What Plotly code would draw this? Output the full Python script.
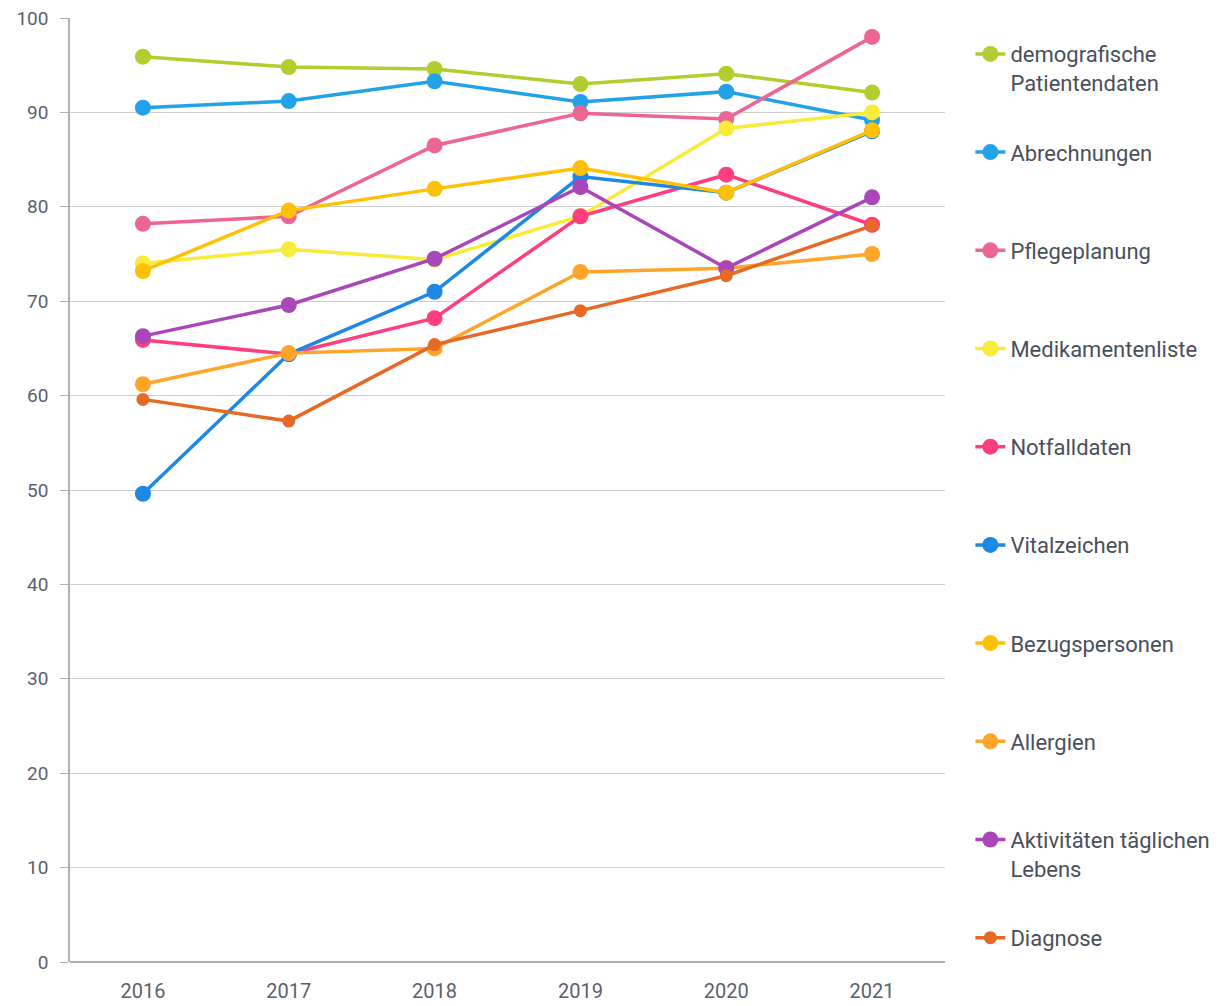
import plotly.graph_objects as go

years = ["2016", "2017", "2018", "2019", "2020", "2021"]

series_names = [
    "demografische<br>Patientendaten",
    "Abrechnungen",
    "Pflegeplanung",
    "Medikamentenliste",
    "Notfalldaten",
    "Vitalzeichen",
    "Bezugspersonen",
    "Allergien",
    "Aktivitäten täglichen<br>Lebens",
    "Diagnose",
]

demografische = [95.9, 94.8, 94.6, 93.0, 94.1, 92.1]
abrechnungen = [90.5, 91.2, 93.3, 91.1, 92.2, 89.2]
pflegeplanung = [78.2, 79.0, 86.5, 89.9, 89.3, 98.0]
medikamentenliste = [74.0, 75.5, 74.4, 79.0, 88.3, 90.0]
notfalldaten = [65.9, 64.4, 68.2, 79.0, 83.4, 78.1]
vitalzeichen = [49.6, 64.4, 71.0, 83.2, 81.5, 88.0]
bezugspersonen = [73.2, 79.6, 81.9, 84.1, 81.5, 88.1]
allergien = [61.2, 64.5, 65.0, 73.1, 73.5, 75.0]
aktivitaeten = [66.3, 69.6, 74.5, 82.1, 73.5, 81.0]
diagnose = [59.6, 57.3, 65.4, 69.0, 72.7, 78.0]

values = [demografische, abrechnungen, pflegeplanung, medikamentenliste, notfalldaten,
          vitalzeichen, bezugspersonen, allergien, aktivitaeten, diagnose]

colors = ["#b2cd2e", "#22a3e9", "#ed6592", "#f8eb3a", "#ff3e80",
          "#1e88e5", "#ffc008", "#ffa62a", "#a947b9", "#e66a26"]
marker_sizes = [16, 16, 16, 16, 16, 16, 16, 16, 16, 13]

fig = go.Figure()
for name, vals, col, ms in zip(series_names, values, colors, marker_sizes):
    label = name if "<br>" in name else name + "<br> "
    fig.add_trace(go.Scatter(
        x=years, y=vals, name=label, mode="lines+markers",
        line=dict(color=col, width=3.5),
        marker=dict(color=col, size=ms),
        legendgroup=name,
    ))

font_family = "Roboto, 'Open Sans', sans-serif"
fig.update_layout(
    width=1223, height=1006,
    margin=dict(l=62, r=286, t=10, b=52, autoexpand=False),
    paper_bgcolor="white", plot_bgcolor="white",
    font=dict(family=font_family, size=18, color="#5c606e"),
    showlegend=True,
    legend=dict(
        x=1.029, y=0.984, xanchor="left", yanchor="top",
        font=dict(family=font_family, size=22, color="#4a4f5c"),
        tracegroupgap=38, valign="top", itemwidth=30,
        bgcolor="rgba(0,0,0,0)",
    ),
    xaxis=dict(
        type="category", range=[-0.5, 5.5], automargin=False,
        showgrid=False, showline=False, ticks="",
        ticklabelstandoff=15, ticklabeloverflow="allow",
        tickfont=dict(size=20, color="#5c606e"),
    ),
    yaxis=dict(
        range=[0, 100], dtick=10, tick0=0, automargin=False,
        showgrid=True, gridcolor="#cfcfcf", gridwidth=1,
        showline=True, linecolor="#b0b0b0", linewidth=1.5,
        ticks="outside", ticklen=8, tickcolor="#b0b0b0",
        ticklabelstandoff=8, ticklabeloverflow="allow",
        zeroline=True, zerolinecolor="#b0b0b0", zerolinewidth=1.5,
        tickfont=dict(size=19, color="#5c606e"),
    ),
)

fig.write_html("out.html")
